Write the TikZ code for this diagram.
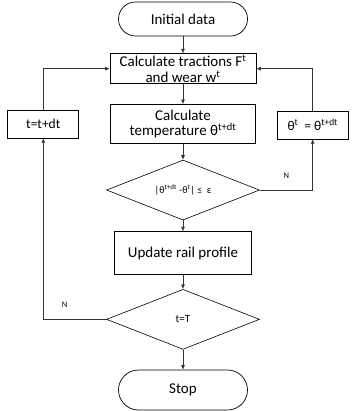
\documentclass[tikz,border=0pt]{standalone}
\usepackage{fontspec}
\setmainfont{Carlito}
\usepackage{tikz}
\usetikzlibrary{arrows.meta, positioning, shapes}

\begin{document}
\begin{tikzpicture}[
    x=1pt, y=1pt,
    node distance=17pt and 31pt,
    font=\fontsize{15}{15.5}\selectfont,
    terminal/.style={rectangle, draw, rounded corners=17pt, minimum height=34pt, minimum width=129pt, align=center, line width=0.7pt},
    block/.style={rectangle, draw, minimum height=30pt, minimum width=146pt, inner sep=1pt, align=center, line width=0.7pt},
    sideblock/.style={rectangle, draw, minimum height=28pt, minimum width=71pt, inner sep=1pt, align=center, line width=0.7pt, font=\fontsize{13.5}{15}\selectfont},
    decision/.style={diamond, draw, aspect=2.55, inner sep=0pt, minimum width=153pt, minimum height=60pt, align=center, line width=0.6pt},
    connector/.style={-{Latex[length=4.5pt, width=4pt]}, line width=0.6pt, draw=black!80},
    lbl/.style={font=\fontsize{8.5}{10}\selectfont},
]
    \useasboundingbox (0,0) rectangle (352,-411);

    % Main column
    \node[terminal] (init) at (183,-19) {Initial data};
    \node[block, below=17pt of init] (tractions) {Calculate tractions F\textsuperscript{t}\\ and wear w\textsuperscript{t}};
    \node[block, below=20pt of tractions, minimum height=39pt, minimum width=145pt] (temp) {Calculate\\ temperature θ\textsuperscript{t+dt}};
    \node[decision, below=16pt of temp] (check) {\fontsize{10}{12}\selectfont |θ\textsuperscript{t+dt} -θ\textsuperscript{t}| ≤~ ε};
    \node[block, below=11pt of check, minimum height=43pt, minimum width=137pt] (update) {Update rail profile};
    \node[decision, below=14pt of update] (endtime) {\fontsize{11}{13}\selectfont t=T};
    \node[terminal, below=20pt of endtime, minimum height=40pt, rounded corners=20pt] (stop) {Stop};

    % Side blocks
    \node[sideblock, left=31pt of temp] (timestep) {t=t+dt};
    \node[sideblock, right=21pt of temp, yshift=-1pt] (thetaup) {θ\textsuperscript{t} ~= θ\textsuperscript{t+dt}};

    % Main flow
    \draw[connector] (init) -- (tractions);
    \draw[connector] (tractions) -- (temp);
    \draw[connector] (temp) -- (check);
    \draw[connector] (check) -- (update);
    \draw[connector] (update) -- (endtime);
    \draw[connector] (endtime) -- (stop);

    % Loops
    \draw[connector] (check.east) -| node[lbl, pos=0.25, above=8pt] (nright) {N} (thetaup.south);
    \draw[connector] (thetaup.north) |- (tractions.east);
    \draw[connector] (endtime.west) -| node[lbl, pos=0.33, above=8pt] (nleft) {N} (timestep.south);
    \draw[connector] (timestep.north) |- (tractions.west);
\end{tikzpicture}
\end{document}
